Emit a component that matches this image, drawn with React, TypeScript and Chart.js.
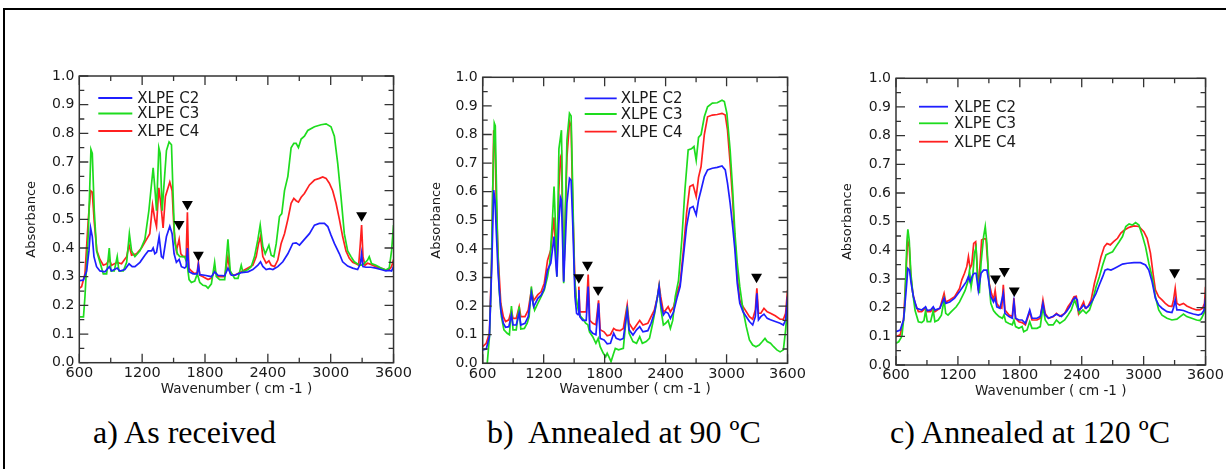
import React, { useEffect, useRef } from "react";
import { Chart, registerables } from "chart.js";
Chart.register(...registerables);

type P = [number, number][];

// ---------- labels ----------
const SERIES_NAMES = ["XLPE C2", "XLPE C3", "XLPE C4"];
const SERIES_COLORS = ["#1f1fff", "#1edc1e", "#ff2020"];
const X_TICKS = [600, 1200, 1800, 2400, 3000, 3600];
const Y_TICKS = [0, 0.1, 0.2, 0.3, 0.4, 0.5, 0.6, 0.7, 0.8, 0.9, 1.0];
const X_TITLE = "Wavenumber ( cm -1 )";
const Y_TITLE = "Absorbance";
const CAPTIONS = ["a) As received", "b)  Annealed at 90 ºC", "c) Annealed at 120 ºC"];

// ---------- panel a: as received ----------
const A_C2: P = [[600,0.286],[638,0.288],[670,0.32],[692,0.39],[708,0.47],[724,0.44],[740,0.37],[765,0.335],[797,0.32],[845,0.317],[886,0.335],[908,0.32],[962,0.33],[987,0.32],[1035,0.325],[1075,0.345],[1105,0.335],[1131,0.335],[1179,0.35],[1226,0.375],[1258,0.39],[1290,0.39],[1305,0.40],[1321,0.38],[1337,0.385],[1362,0.44],[1384,0.37],[1400,0.365],[1432,0.44],[1464,0.476],[1486,0.45],[1505,0.38],[1527,0.35],[1553,0.36],[1575,0.335],[1606,0.33],[1620,0.335],[1632,0.40],[1648,0.317],[1686,0.31],[1725,0.31],[1737,0.34],[1750,0.307],[1797,0.305],[1861,0.30],[1892,0.317],[1924,0.305],[1988,0.303],[2019,0.33],[2051,0.305],[2083,0.305],[2146,0.314],[2210,0.317],[2257,0.325],[2305,0.34],[2330,0.352],[2352,0.336],[2384,0.325],[2416,0.328],[2448,0.325],[2495,0.335],[2543,0.352],[2591,0.38],[2638,0.416],[2670,0.418],[2702,0.41],[2749,0.43],[2797,0.45],[2845,0.48],[2892,0.486],[2940,0.486],[2972,0.475],[3003,0.445],[3035,0.416],[3083,0.38],[3114,0.352],[3162,0.337],[3210,0.33],[3257,0.325],[3283,0.345],[3295,0.38],[3308,0.335],[3337,0.333],[3384,0.333],[3432,0.33],[3479,0.325],[3527,0.32],[3559,0.322],[3581,0.32],[3600,0.335]];
const A_C3: P = [[600,0.16],[640,0.16],[654,0.23],[686,0.45],[711,0.744],[724,0.73],[743,0.53],[765,0.39],[797,0.35],[829,0.31],[861,0.31],[886,0.40],[902,0.32],[934,0.32],[962,0.37],[978,0.32],[1020,0.32],[1052,0.35],[1078,0.45],[1099,0.39],[1131,0.37],[1179,0.39],[1226,0.43],[1264,0.53],[1305,0.68],[1321,0.61],[1337,0.53],[1359,0.75],[1372,0.73],[1391,0.53],[1432,0.74],[1457,0.77],[1480,0.76],[1495,0.59],[1511,0.42],[1537,0.38],[1559,0.37],[1581,0.37],[1606,0.37],[1629,0.345],[1648,0.29],[1670,0.28],[1702,0.285],[1727,0.31],[1750,0.28],[1781,0.27],[1807,0.268],[1829,0.26],[1861,0.275],[1892,0.35],[1908,0.30],[1940,0.29],[1988,0.29],[2019,0.43],[2041,0.32],[2083,0.294],[2115,0.294],[2146,0.34],[2162,0.316],[2210,0.325],[2241,0.335],[2273,0.37],[2305,0.43],[2327,0.48],[2352,0.405],[2375,0.38],[2410,0.41],[2432,0.375],[2457,0.37],[2480,0.415],[2511,0.51],[2533,0.52],[2559,0.60],[2591,0.65],[2622,0.75],[2648,0.765],[2670,0.765],[2692,0.75],[2718,0.78],[2749,0.79],[2781,0.81],[2845,0.823],[2908,0.83],[2956,0.833],[3003,0.823],[3035,0.79],[3067,0.695],[3098,0.58],[3130,0.45],[3162,0.39],[3194,0.37],[3225,0.352],[3257,0.344],[3289,0.34],[3321,0.346],[3352,0.358],[3368,0.37],[3390,0.346],[3432,0.34],[3479,0.33],[3527,0.323],[3559,0.33],[3581,0.39],[3600,0.48]];
const A_C4: P = [[600,0.26],[622,0.265],[654,0.31],[686,0.50],[708,0.60],[724,0.595],[743,0.49],[768,0.39],[797,0.36],[829,0.34],[861,0.345],[886,0.36],[908,0.34],[962,0.35],[1003,0.345],[1052,0.37],[1075,0.41],[1099,0.375],[1146,0.38],[1194,0.40],[1242,0.43],[1273,0.45],[1299,0.55],[1321,0.50],[1337,0.475],[1359,0.61],[1378,0.555],[1400,0.47],[1422,0.58],[1464,0.63],[1486,0.60],[1505,0.46],[1527,0.39],[1553,0.43],[1569,0.38],[1591,0.37],[1620,0.37],[1632,0.525],[1645,0.33],[1670,0.32],[1702,0.31],[1725,0.315],[1737,0.35],[1750,0.305],[1781,0.30],[1829,0.29],[1861,0.295],[1892,0.32],[1924,0.30],[1988,0.30],[2019,0.37],[2041,0.31],[2083,0.305],[2146,0.317],[2210,0.33],[2257,0.34],[2289,0.37],[2311,0.415],[2330,0.44],[2352,0.37],[2384,0.347],[2410,0.355],[2432,0.34],[2464,0.335],[2495,0.358],[2527,0.416],[2559,0.45],[2591,0.50],[2622,0.556],[2648,0.573],[2670,0.565],[2692,0.56],[2718,0.577],[2749,0.59],[2797,0.62],[2845,0.637],[2892,0.643],[2924,0.648],[2956,0.643],[2987,0.626],[3019,0.60],[3051,0.556],[3083,0.50],[3114,0.44],[3146,0.39],[3178,0.364],[3210,0.35],[3241,0.345],[3267,0.34],[3283,0.416],[3295,0.48],[3308,0.37],[3327,0.34],[3352,0.347],[3384,0.343],[3432,0.335],[3479,0.33],[3527,0.323],[3559,0.325],[3581,0.335],[3600,0.36]];
const A_MARKS: P = [[1552,0.483],[1632,0.553],[1737,0.376],[3295,0.514]];

// ---------- panel b: annealed at 90 ºC ----------
const B_C2: P = [[600,0.047],[635,0.05],[666,0.093],[689,0.338],[708,0.606],[721,0.57],[733,0.466],[752,0.315],[778,0.186],[803,0.14],[825,0.126],[857,0.128],[883,0.169],[898,0.134],[930,0.134],[959,0.175],[975,0.134],[1016,0.14],[1048,0.163],[1079,0.245],[1102,0.198],[1143,0.227],[1175,0.238],[1206,0.262],[1238,0.326],[1270,0.35],[1302,0.443],[1318,0.36],[1330,0.303],[1349,0.49],[1365,0.58],[1375,0.57],[1397,0.285],[1429,0.56],[1454,0.647],[1470,0.64],[1486,0.49],[1508,0.233],[1524,0.175],[1538,0.17],[1546,0.256],[1556,0.163],[1584,0.15],[1619,0.15],[1638,0.268],[1654,0.117],[1683,0.105],[1714,0.10],[1740,0.21],[1756,0.087],[1794,0.082],[1825,0.068],[1857,0.07],[1889,0.105],[1914,0.087],[1952,0.082],[1984,0.087],[2022,0.186],[2041,0.117],[2079,0.099],[2114,0.117],[2145,0.128],[2177,0.11],[2225,0.114],[2257,0.14],[2289,0.175],[2320,0.233],[2336,0.268],[2352,0.21],[2378,0.169],[2400,0.18],[2425,0.175],[2447,0.157],[2479,0.18],[2511,0.227],[2543,0.268],[2575,0.373],[2606,0.478],[2638,0.542],[2670,0.548],[2701,0.519],[2724,0.571],[2749,0.606],[2781,0.653],[2813,0.676],[2860,0.682],[2908,0.685],[2955,0.69],[2987,0.676],[3009,0.63],[3035,0.56],[3060,0.478],[3082,0.396],[3105,0.28],[3130,0.21],[3162,0.18],[3194,0.163],[3225,0.146],[3257,0.134],[3283,0.163],[3298,0.245],[3314,0.152],[3337,0.163],[3368,0.172],[3400,0.157],[3432,0.152],[3479,0.146],[3527,0.14],[3559,0.134],[3581,0.152],[3600,0.233]];
const B_C3: P = [[600,-0.03],[640,-0.02],[666,0.09],[682,0.256],[698,0.6],[714,0.84],[724,0.83],[733,0.66],[746,0.43],[762,0.256],[784,0.163],[809,0.117],[841,0.105],[863,0.10],[883,0.20],[898,0.117],[930,0.117],[959,0.198],[975,0.12],[1010,0.122],[1038,0.14],[1057,0.163],[1079,0.268],[1095,0.21],[1111,0.186],[1143,0.21],[1175,0.233],[1206,0.256],[1238,0.303],[1260,0.35],[1286,0.50],[1302,0.618],[1318,0.466],[1330,0.303],[1350,0.75],[1375,0.815],[1397,0.28],[1429,0.78],[1454,0.874],[1470,0.865],[1486,0.606],[1502,0.315],[1518,0.233],[1540,0.186],[1565,0.163],[1587,0.155],[1613,0.14],[1635,0.135],[1651,0.11],[1683,0.093],[1714,0.07],[1737,0.087],[1756,0.058],[1787,0.035],[1810,0.023],[1825,0.035],[1841,0.023],[1863,0.006],[1889,0.035],[1905,0.052],[1937,0.047],[1984,0.052],[2022,0.198],[2041,0.105],[2079,0.076],[2114,0.07],[2145,0.093],[2171,0.07],[2209,0.076],[2241,0.087],[2273,0.14],[2304,0.198],[2336,0.268],[2355,0.186],[2378,0.134],[2400,0.14],[2425,0.15],[2447,0.122],[2470,0.15],[2495,0.233],[2527,0.29],[2559,0.43],[2590,0.606],[2622,0.746],[2654,0.75],[2679,0.758],[2701,0.71],[2724,0.79],[2749,0.80],[2781,0.862],[2813,0.897],[2860,0.91],[2908,0.911],[2955,0.92],[2978,0.915],[3003,0.874],[3035,0.746],[3060,0.606],[3082,0.455],[3105,0.35],[3130,0.268],[3162,0.186],[3194,0.128],[3225,0.082],[3257,0.064],[3289,0.058],[3321,0.064],[3352,0.076],[3378,0.087],[3400,0.076],[3432,0.07],[3463,0.058],[3495,0.047],[3527,0.04],[3559,0.047],[3581,0.117],[3600,0.2]];
const B_C4: P = [[600,0.058],[635,0.07],[666,0.105],[689,0.37],[708,0.815],[721,0.77],[733,0.57],[752,0.373],[778,0.21],[803,0.163],[825,0.146],[857,0.152],[883,0.186],[898,0.157],[930,0.157],[959,0.198],[975,0.163],[1016,0.163],[1048,0.186],[1079,0.256],[1102,0.22],[1143,0.24],[1175,0.25],[1206,0.28],[1238,0.36],[1270,0.396],[1302,0.51],[1318,0.396],[1330,0.315],[1349,0.606],[1365,0.72],[1375,0.73],[1397,0.29],[1429,0.72],[1454,0.845],[1470,0.83],[1486,0.55],[1508,0.28],[1524,0.21],[1538,0.198],[1546,0.268],[1556,0.18],[1584,0.18],[1619,0.18],[1638,0.31],[1654,0.15],[1683,0.14],[1714,0.135],[1740,0.22],[1756,0.117],[1794,0.11],[1825,0.096],[1857,0.1],[1889,0.122],[1914,0.116],[1952,0.114],[1984,0.122],[2022,0.204],[2041,0.14],[2082,0.117],[2114,0.134],[2145,0.15],[2177,0.134],[2225,0.14],[2257,0.163],[2289,0.186],[2320,0.233],[2336,0.274],[2352,0.233],[2378,0.18],[2400,0.186],[2425,0.198],[2447,0.18],[2479,0.198],[2511,0.245],[2543,0.28],[2575,0.396],[2606,0.524],[2638,0.618],[2670,0.624],[2701,0.583],[2724,0.65],[2749,0.688],[2781,0.80],[2813,0.862],[2860,0.868],[2908,0.87],[2955,0.874],[2987,0.868],[3009,0.816],[3035,0.70],[3060,0.571],[3082,0.43],[3105,0.303],[3130,0.22],[3162,0.198],[3194,0.18],[3225,0.163],[3257,0.154],[3283,0.186],[3298,0.262],[3314,0.175],[3337,0.175],[3368,0.192],[3400,0.18],[3432,0.175],[3479,0.166],[3527,0.154],[3559,0.154],[3581,0.175],[3600,0.256]];
const B_MARKS: P = [[1546,0.30],[1631,0.344],[1736,0.257],[3295,0.302]];

// ---------- panel c: annealed at 120 ºC ----------
const C_C2: P = [[600,0.116],[641,0.122],[673,0.157],[696,0.25],[715,0.337],[731,0.331],[747,0.285],[769,0.238],[801,0.198],[849,0.192],[887,0.203],[903,0.19],[935,0.192],[961,0.203],[977,0.192],[1025,0.198],[1066,0.233],[1082,0.215],[1120,0.22],[1168,0.233],[1216,0.256],[1248,0.273],[1280,0.29],[1302,0.308],[1318,0.29],[1344,0.314],[1360,0.32],[1376,0.32],[1398,0.26],[1424,0.32],[1449,0.331],[1481,0.331],[1497,0.296],[1519,0.238],[1545,0.22],[1561,0.233],[1577,0.203],[1608,0.198],[1640,0.25],[1656,0.18],[1695,0.169],[1727,0.163],[1743,0.22],[1759,0.163],[1791,0.157],[1822,0.157],[1854,0.145],[1896,0.192],[1918,0.163],[1966,0.163],[1998,0.169],[2024,0.215],[2046,0.174],[2078,0.163],[2123,0.17],[2155,0.177],[2203,0.169],[2251,0.186],[2283,0.203],[2315,0.227],[2337,0.236],[2357,0.227],[2369,0.192],[2395,0.198],[2418,0.209],[2443,0.198],[2475,0.209],[2507,0.227],[2539,0.25],[2571,0.28],[2603,0.308],[2626,0.331],[2651,0.334],[2683,0.331],[2715,0.337],[2747,0.343],[2795,0.352],[2843,0.355],[2906,0.357],[2970,0.357],[3018,0.349],[3050,0.331],[3082,0.29],[3114,0.233],[3146,0.209],[3178,0.198],[3226,0.186],[3274,0.183],[3290,0.2],[3306,0.227],[3322,0.192],[3348,0.192],[3386,0.19],[3434,0.183],[3482,0.178],[3530,0.174],[3561,0.178],[3584,0.19],[3600,0.233]];
const C_C3: P = [[600,0.076],[626,0.081],[657,0.10],[683,0.19],[705,0.424],[715,0.473],[728,0.436],[744,0.32],[763,0.25],[785,0.19],[817,0.151],[849,0.148],[871,0.155],[887,0.19],[903,0.151],[935,0.151],[961,0.19],[977,0.151],[1009,0.157],[1040,0.174],[1066,0.227],[1082,0.18],[1104,0.174],[1136,0.186],[1184,0.203],[1216,0.22],[1248,0.244],[1270,0.26],[1296,0.29],[1312,0.33],[1328,0.273],[1344,0.31],[1360,0.39],[1376,0.41],[1392,0.30],[1408,0.25],[1424,0.355],[1449,0.448],[1465,0.483],[1481,0.424],[1497,0.308],[1519,0.215],[1545,0.19],[1567,0.18],[1599,0.169],[1631,0.163],[1647,0.175],[1663,0.151],[1695,0.145],[1727,0.14],[1743,0.157],[1759,0.134],[1791,0.128],[1822,0.134],[1838,0.116],[1870,0.122],[1896,0.151],[1918,0.128],[1966,0.128],[1998,0.134],[2024,0.203],[2046,0.157],[2078,0.14],[2123,0.14],[2155,0.157],[2187,0.145],[2235,0.157],[2267,0.174],[2299,0.192],[2331,0.227],[2347,0.21],[2379,0.18],[2411,0.192],[2443,0.18],[2475,0.192],[2507,0.227],[2539,0.273],[2571,0.308],[2603,0.349],[2635,0.384],[2667,0.39],[2699,0.395],[2731,0.413],[2763,0.43],[2795,0.448],[2827,0.483],[2859,0.492],[2890,0.488],[2922,0.497],[2954,0.488],[2986,0.453],[3018,0.413],[3050,0.355],[3082,0.308],[3114,0.238],[3146,0.192],[3178,0.174],[3226,0.163],[3274,0.157],[3322,0.16],[3354,0.169],[3386,0.178],[3418,0.169],[3466,0.163],[3513,0.157],[3545,0.155],[3561,0.163],[3584,0.18],[3600,0.2]];
const C_C4: P = [[600,0.099],[641,0.105],[673,0.157],[696,0.308],[712,0.436],[728,0.413],[744,0.308],[763,0.25],[785,0.215],[817,0.186],[849,0.186],[887,0.198],[903,0.186],[935,0.186],[961,0.198],[977,0.186],[1025,0.198],[1066,0.25],[1082,0.22],[1120,0.227],[1168,0.238],[1216,0.267],[1238,0.297],[1264,0.32],[1286,0.343],[1302,0.378],[1318,0.337],[1334,0.35],[1353,0.424],[1372,0.43],[1385,0.355],[1398,0.26],[1411,0.33],[1430,0.436],[1449,0.44],[1472,0.44],[1487,0.366],[1503,0.285],[1525,0.25],[1545,0.227],[1561,0.26],[1577,0.215],[1599,0.203],[1625,0.198],[1640,0.28],[1656,0.192],[1695,0.174],[1727,0.169],[1743,0.233],[1759,0.163],[1791,0.151],[1822,0.148],[1854,0.14],[1896,0.186],[1918,0.157],[1966,0.157],[1998,0.163],[2024,0.227],[2046,0.18],[2078,0.163],[2123,0.168],[2155,0.18],[2187,0.17],[2235,0.18],[2267,0.203],[2299,0.22],[2325,0.238],[2347,0.24],[2369,0.18],[2395,0.203],[2418,0.22],[2434,0.198],[2459,0.203],[2491,0.227],[2523,0.285],[2555,0.33],[2587,0.378],[2619,0.413],[2645,0.424],[2677,0.419],[2709,0.43],[2747,0.442],[2779,0.46],[2811,0.47],[2859,0.48],[2906,0.485],[2954,0.483],[3002,0.465],[3034,0.442],[3066,0.39],[3091,0.32],[3114,0.262],[3146,0.238],[3178,0.227],[3210,0.215],[3242,0.206],[3274,0.204],[3290,0.227],[3306,0.267],[3322,0.215],[3348,0.209],[3386,0.215],[3418,0.206],[3466,0.198],[3513,0.192],[3545,0.192],[3571,0.198],[3590,0.215],[3600,0.273]];
const C_MARKS: P = [[1564,0.301],[1650,0.327],[1746,0.259],[3300,0.323]];

// ---------- plugins ----------
const midpoints = (a: number[]) => a.slice(1).map((v, i) => (v + a[i]) / 2);

const framePlugin = {
  id: "frameTicks",
  afterDatasetsDraw(chart: any) {
    const { ctx, chartArea: a, scales } = chart;
    const xs = scales.x, ys = scales.y;
    ctx.save();
    ctx.strokeStyle = "#333";
    ctx.lineWidth = 1.3;
    ctx.beginPath();
    const addX = (v: number, len: number) => {
      const p = xs.getPixelForValue(v);
      ctx.moveTo(p, a.bottom); ctx.lineTo(p, a.bottom - len);
      ctx.moveTo(p, a.top); ctx.lineTo(p, a.top + len);
    };
    const addY = (v: number, len: number) => {
      const p = ys.getPixelForValue(v);
      ctx.moveTo(a.left, p); ctx.lineTo(a.left + len, p);
      ctx.moveTo(a.right, p); ctx.lineTo(a.right - len, p);
    };
    X_TICKS.forEach((v) => addX(v, 9));
    midpoints(X_TICKS).forEach((v) => addX(v, 5));
    Y_TICKS.forEach((v) => addY(v, 9));
    midpoints(Y_TICKS).forEach((v) => addY(v, 5));
    ctx.stroke();
    ctx.lineWidth = 1.5;
    ctx.strokeRect(a.left, a.top, a.right - a.left, a.bottom - a.top);
    ctx.restore();
  },
};

const legendPlugin = {
  id: "inLegend",
  afterDatasetsDraw(chart: any, _args: any, opts: any) {
    const { ctx, chartArea: a } = chart;
    ctx.save();
    ctx.font = "15px 'DejaVu Sans'";
    ctx.textBaseline = "middle";
    ctx.textAlign = "left";
    SERIES_NAMES.forEach((name, i) => {
      const y = a.top + opts.rows[i];
      ctx.strokeStyle = SERIES_COLORS[i];
      ctx.lineWidth = 1.8;
      ctx.beginPath();
      ctx.moveTo(a.left + opts.x1, y);
      ctx.lineTo(a.left + opts.x2, y);
      ctx.stroke();
      ctx.fillStyle = "#1a1a1a";
      ctx.fillText(name, a.left + opts.tx, y + 1);
    });
    ctx.restore();
  },
};

type PanelProps = {
  series: P[];
  marks: P;
  box: { left: number; top: number; width: number; height: number };
  area: { left: number; right: number; top: number; bottom: number };
  yTitlePad: number;
  legend: { x1: number; x2: number; tx: number; rows: number[] };
};

function Panel({ series, marks, box, area, yTitlePad, legend }: PanelProps) {
  const ref = useRef<HTMLCanvasElement>(null);
  useEffect(() => {
    const yWidth = area.left - box.left;
    const xHeight = box.top + box.height - area.bottom;
    const toXY = (p: P) => p.map(([x, y]) => ({ x, y }));
    const chart = new Chart(ref.current!, {
      type: "line",
      data: {
        datasets: [
          {
            label: "marks",
            data: toXY(marks),
            showLine: false,
            pointStyle: "triangle",
            rotation: 180,
            pointRadius: 6.3,
            pointBackgroundColor: "#000",
            pointBorderColor: "#000",
            pointBorderWidth: 0,
            order: -1,
          } as any,
          ...series.map((s, i) => ({
            label: SERIES_NAMES[i],
            data: toXY(s),
            borderColor: SERIES_COLORS[i],
            borderWidth: 1.7,
            pointRadius: 0,
            tension: 0,
            fill: false,
            order: i,
          })),
        ],
      },
      options: {
        animation: false,
        responsive: false,
        devicePixelRatio: 1,
        events: [],
        layout: {
          padding: {
            left: 0,
            top: area.top - box.top,
            right: box.left + box.width - area.right,
            bottom: 0,
          },
        },
        plugins: {
          legend: { display: false },
          tooltip: { enabled: false },
          inLegend: legend,
        } as any,
        scales: {
          x: {
            type: "linear",
            min: X_TICKS[0],
            max: X_TICKS[X_TICKS.length - 1],
            afterBuildTicks: (s: any) => {
              s.ticks = X_TICKS.map((v) => ({ value: v }));
            },
            afterFit: (s: any) => {
              s.height = xHeight;
            },
            grid: { display: false, drawTicks: false },
            border: { display: false },
            ticks: {
              padding: 2,
              color: "#1a1a1a",
              font: { family: "DejaVu Sans", size: 14.5 },
              maxRotation: 0,
              autoSkip: false,
              callback: (v: any) => String(v),
            },
            title: {
              display: true,
              text: X_TITLE,
              color: "#1a1a1a",
              font: { family: "DejaVu Sans", size: 13.5 },
              padding: { top: 0, bottom: 2 },
            },
          },
          y: {
            type: "linear",
            min: 0,
            max: 1,
            afterBuildTicks: (s: any) => {
              s.ticks = Y_TICKS.map((v) => ({ value: v }));
            },
            afterFit: (s: any) => {
              s.width = yWidth;
            },
            grid: { display: false, drawTicks: false },
            border: { display: false },
            ticks: {
              padding: 5,
              color: "#1a1a1a",
              font: { family: "DejaVu Sans", size: 14 },
              autoSkip: false,
              callback: (v: any) => Number(v).toFixed(1),
            },
            title: {
              display: true,
              text: Y_TITLE,
              color: "#1a1a1a",
              font: { family: "DejaVu Sans", size: 13 },
              padding: { top: yTitlePad, bottom: 0 },
            },
          },
        },
      },
      plugins: [framePlugin, legendPlugin],
    });
    return () => chart.destroy();
  }, []);
  return (
    <canvas
      ref={ref}
      width={box.width}
      height={box.height}
      style={{ position: "absolute", left: box.left, top: box.top, width: box.width, height: box.height }}
    />
  );
}

const captionStyle: React.CSSProperties = {
  position: "absolute",
  top: 416,
  fontFamily: "'Liberation Serif', 'Times New Roman', serif",
  fontSize: 32,
  lineHeight: "32px",
  whiteSpace: "pre",
  color: "#000",
};

export default function App() {
  return (
    <div
      style={{
        position: "absolute",
        left: 0,
        top: 0,
        width: 1226,
        height: 469,
        background: "#fff",
        overflow: "hidden",
      }}
    >
      <div
        style={{
          position: "absolute",
          left: 3,
          top: 8,
          width: 1400,
          height: 600,
          borderTop: "2px solid #000",
          borderLeft: "2px solid #000",
        }}
      />
      <Panel
        series={[A_C2, A_C3, A_C4]}
        marks={A_MARKS}
        box={{ left: 12, top: 60, width: 402, height: 340 }}
        area={{ left: 79.3, right: 394.3, top: 76, bottom: 362.7 }}
        yTitlePad={11.5}
        legend={{ x1: 19, x2: 53, tx: 58, rows: [22, 37.5, 55] }}
      />
      <Panel
        series={[B_C2, B_C3, B_C4]}
        marks={B_MARKS}
        box={{ left: 418, top: 60, width: 390, height: 340 }}
        area={{ left: 482.7, right: 797.7, top: 77.3, bottom: 363.3 }}
        yTitlePad={11}
        legend={{ x1: 102, x2: 134, tx: 138, rows: [21, 36.7, 54.4] }}
      />
      <Panel
        series={[C_C2, C_C3, C_C4]}
        marks={C_MARKS}
        box={{ left: 828, top: 60, width: 398, height: 342 }}
        area={{ left: 896, right: 1209.3, top: 78.3, bottom: 365 }}
        yTitlePad={11.8}
        legend={{ x1: 23, x2: 52, tx: 58, rows: [28.4, 45, 63.4] }}
      />
      <div style={{ ...captionStyle, left: 93 }}>{CAPTIONS[0]}</div>
      <div style={{ ...captionStyle, left: 487 }}>{CAPTIONS[1]}</div>
      <div style={{ ...captionStyle, left: 890 }}>{CAPTIONS[2]}</div>
    </div>
  );
}
